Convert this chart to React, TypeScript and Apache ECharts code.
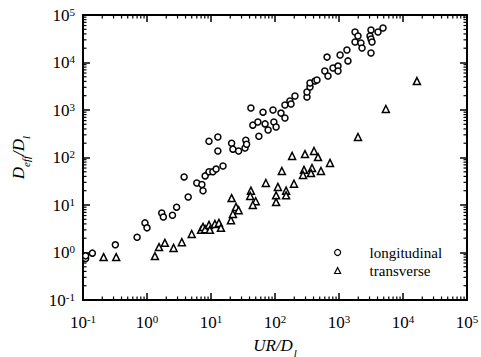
import React, { useEffect, useRef } from "react";
import * as echarts from "echarts";

// longitudinal (circles): [UR/Dl, Deff/Dl]
const longitudinal: [number, number][] = [
  [0.11, 0.75], [0.11, 0.85], [0.14, 0.97], [0.32, 1.45], [0.7, 2.1], [0.93, 4.2], [1.0, 3.3],
  [1.7, 6.8], [1.8, 5.6], [2.5, 6.1], [2.9, 9.0], [3.8, 39], [4.4, 14.7], [6.0, 29], [7.2, 27],
  [7.5, 20], [8.1, 41], [9.3, 50], [10.7, 50], [12, 57], [15.4, 66], [9.3, 220], [12.8, 270],
  [12.8, 137], [21, 200], [22, 150], [27, 137], [34, 158], [35, 230], [36, 190], [42, 1100],
  [56, 280], [45, 480], [54, 560], [70, 510], [78, 380], [96, 560], [104, 440], [65, 900],
  [93, 1000], [124, 860], [143, 680], [143, 1270], [171, 1550], [178, 1340], [205, 1970],
  [316, 1880], [316, 2400], [352, 3050], [352, 3700], [422, 4070], [453, 4270], [650, 13000],
  [600, 6600], [673, 5200], [806, 7660], [965, 8400], [965, 6600], [1040, 14400], [1330, 18300],
  [1380, 10800], [1780, 43800], [1980, 36100], [1780, 27000], [2200, 25800], [2290, 20200],
  [3160, 48300], [3050, 36100], [3160, 31300], [3280, 27000], [3160, 15900], [4070, 43900],
  [4870, 53200],
];

// transverse (triangles): [UR/Dl, Deff/Dl]
const transverse: [number, number][] = [
  [0.21, 0.8], [0.33, 0.8], [1.33, 0.84], [1.54, 1.3], [1.9, 1.6], [2.6, 1.25], [3.5, 1.65],
  [5.0, 2.45], [7.0, 3.0], [7.5, 3.45], [8.1, 3.1], [9.3, 3.8], [9.6, 3.0], [11.5, 4.0],
  [13.3, 4.2], [14.3, 3.3], [20.5, 4.8], [22, 6.5], [24.6, 9.1], [27, 7.8], [21, 14], [42, 20],
  [41, 15.5], [50, 12], [45, 10], [72, 29], [111, 24], [104, 16], [104, 11.5], [149, 20],
  [149, 16], [198, 28], [128, 52], [185, 108], [294, 118], [407, 137], [470, 102], [723, 77],
  [284, 55], [274, 43], [379, 60], [365, 47], [523, 52], [1980, 270], [5400, 1050],
  [16500, 4070],
];

const seriesNames = ["longitudinal", "transverse"];
const tickExponents = [-1, 0, 1, 2, 3, 4, 5];
const minorMultipliers = [2, 3, 4, 5, 6, 7, 8, 9];

const AX_MIN = Math.pow(10, tickExponents[0]);
const AX_MAX = Math.pow(10, tickExponents[tickExponents.length - 1]);

const minorValues: number[] = [];
for (let i = 0; i < tickExponents.length - 1; i++) {
  for (const m of minorMultipliers) minorValues.push(m * Math.pow(10, tickExponents[i]));
}

const FONT = "Liberation Serif";

const labelRich = {
  b: { fontFamily: FONT, fontSize: 17, color: "#000", lineHeight: 18 },
  s: { fontFamily: FONT, fontSize: 11, color: "#000", verticalAlign: "top", lineHeight: 18 },
};

const fmt = (v: number) => {
  const e = Math.round(Math.log10(v));
  return `{b|10}{s|${e}}`;
};

export default function App() {
  const ref = useRef<HTMLDivElement>(null);
  useEffect(() => {
    if (!ref.current) return;
    const chart = echarts.init(ref.current, undefined, { renderer: "svg" });
    const axisLine = { show: true, onZero: false, lineStyle: { color: "#000", width: 2 } };
    const majorTick = { show: true, inside: true, length: 7, lineStyle: { color: "#000", width: 1.5 } };
    const xCommon = { type: "log", logBase: 10, min: AX_MIN, max: AX_MAX, interval: 1, splitLine: { show: false } };
    const minorLen = 3.5;
    chart.setOption({
      animation: false,
      backgroundColor: "#fff",
      textStyle: { fontFamily: FONT },
      grid: { left: 83, right: 14, top: 15, bottom: 57, containLabel: false, outerBoundsMode: "none" },
      legend: {
        orient: "vertical",
        left: 329,
        top: 240,
        itemWidth: 6,
        itemHeight: 6,
        itemGap: 3,
        itemStyle: { borderWidth: 1.2 },
        data: seriesNames,
        textStyle: { fontFamily: FONT, fontSize: 15, color: "#000", padding: [0, 0, 0, 24] },
      },
      xAxis: [
        {
          ...xCommon,
          position: "bottom",
          axisLine,
          axisTick: majorTick,
          axisLabel: { formatter: fmt, rich: labelRich, margin: 13, fontFamily: FONT },
          name: "{i|UR/D}{sub|l}",
          nameLocation: "middle",
          nameGap: 37,
          nameTextStyle: {
            fontFamily: FONT,
            rich: {
              i: { fontFamily: FONT, fontStyle: "italic", fontSize: 17, color: "#000" },
              sub: { fontFamily: FONT, fontStyle: "italic", fontSize: 11, color: "#000", verticalAlign: "bottom", padding: [0, 0, -4, 1] },
            },
          },
        },
        {
          ...xCommon,
          position: "top",
          axisLine,
          axisTick: majorTick,
          axisLabel: { show: false },
        },
      ],
      yAxis: [
        {
          ...xCommon,
          position: "left",
          axisLine,
          axisTick: majorTick,
          axisLabel: { formatter: fmt, rich: labelRich, margin: 8, fontFamily: FONT },
          name: "{i|D}{sub|eff}{i|/D}{sub|l}",
          nameLocation: "middle",
          nameRotate: 90,
          nameGap: 56,
          nameTextStyle: {
            fontFamily: FONT,
            rich: {
              i: { fontFamily: FONT, fontStyle: "italic", fontSize: 17, color: "#000" },
              sub: { fontFamily: FONT, fontStyle: "italic", fontSize: 11, color: "#000", verticalAlign: "bottom", padding: [0, 0, -4, 0] },
            },
          },
        },
        {
          ...xCommon,
          position: "right",
          axisLine,
          axisTick: majorTick,
          axisLabel: { show: false },
        },
      ],
      series: [
        {
          name: seriesNames[0],
          type: "scatter",
          data: longitudinal,
          symbol: "circle",
          symbolSize: 6,
          itemStyle: { color: "#fff", borderColor: "#000", borderWidth: 1.5, opacity: 1 },
        },
        {
          name: seriesNames[1],
          type: "scatter",
          data: transverse,
          symbol: "triangle",
          symbolSize: 7,
          itemStyle: { color: "#fff", borderColor: "#000", borderWidth: 1.5, opacity: 1 },
        },
        {
          type: "custom",
          silent: true,
          data: minorValues.map((v) => [v, 1]),
          renderItem: (params: any, api: any) => {
            const v = api.value(0);
            const b = api.coord([v, AX_MIN]);
            const t = api.coord([v, AX_MAX]);
            return {
              type: "group",
              children: [
                { type: "line", shape: { x1: b[0], y1: b[1], x2: b[0], y2: b[1] - minorLen }, style: { stroke: "#000", lineWidth: 1.2 } },
                { type: "line", shape: { x1: t[0], y1: t[1], x2: t[0], y2: t[1] + minorLen }, style: { stroke: "#000", lineWidth: 1.2 } },
              ],
            };
          },
        },
        {
          type: "custom",
          silent: true,
          data: minorValues.map((v) => [1, v]),
          renderItem: (params: any, api: any) => {
            const v = api.value(1);
            const l = api.coord([AX_MIN, v]);
            const r = api.coord([AX_MAX, v]);
            return {
              type: "group",
              children: [
                { type: "line", shape: { x1: l[0], y1: l[1], x2: l[0] + minorLen, y2: l[1] }, style: { stroke: "#000", lineWidth: 1.2 } },
                { type: "line", shape: { x1: r[0], y1: r[1], x2: r[0] - minorLen, y2: r[1] }, style: { stroke: "#000", lineWidth: 1.2 } },
              ],
            };
          },
        },
      ],
    });
    return () => chart.dispose();
  }, []);
  return (
    <div
      ref={ref}
      style={{ position: "fixed", left: 0, top: 0, width: 481, height: 357, background: "#fff" }}
    />
  );
}
